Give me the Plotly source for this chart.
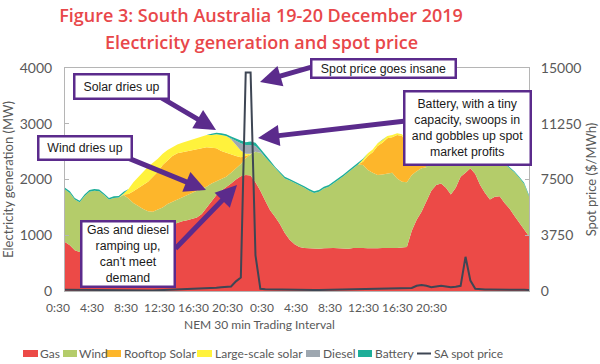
import plotly.graph_objects as go

# ---------------- data (MW per 30-min interval, two days) ----------------
gas = [880, 820, 730, 700, 690, 690, 700, 715, 730, 750, 770, 800, 830, 870, 900, 940,
       980, 1020, 1060, 1100, 1130, 1160, 1190, 1230, 1250, 1270, 1290, 1320, 1380, 1500,
       1620, 1720, 1800, 1860, 1930, 2000, 2060, 2080, 2070, 1950, 1800, 1620, 1450, 1330,
       1200, 1040, 920, 840, 790,
       770, 765, 760, 760, 765, 770, 770, 765, 760, 760, 770, 775, 770, 765, 760, 765,
       770, 775, 770, 770, 780, 790,
       1080, 1280, 1420, 1620, 1800, 1900, 1930, 1850, 1730, 1850, 2050, 2120, 2200, 2100,
       1900, 1760, 1640, 1690, 1700, 1580, 1480, 1350, 1230, 1110, 980]

wind = [940, 940, 910, 890, 1010, 1090, 1100, 1075, 990, 890, 900, 875, 890, 790, 680, 580,
        490, 410, 360, 360, 370, 400, 410, 410, 440, 460, 480, 490, 460, 370,
        310, 250, 210, 190, 190, 200, 220, 300, 380, 550, 680, 780, 850, 870,
        900, 980, 1060, 1100, 1110,
        1080, 1035, 1000, 1020, 1075, 1100, 1160, 1235, 1300, 1370, 1430, 1495, 1490, 1405,
        1360, 1315, 1320, 1335, 1350, 1250, 1180, 1160,
        1000, 870, 780, 600, 550, 500, 520, 630, 770, 670, 490, 430, 350, 430,
        600, 700, 780, 690, 640, 700, 720, 780, 800, 810, 720]

rooftop = [0] * 12 + [10, 80, 210, 330, 440, 530, 630, 680, 760, 780, 820, 830, 800, 780,
                      750, 730, 730, 710, 640, 590, 500, 430, 320, 220, 120, 40, 0] \
          + [0] * 22 + [60, 250, 370, 520, 570, 630, 640, 780, 820, 700, 450, 250, 100, 10] \
          + [0] * 21

large_solar = [0] * 12 + [20, 90, 160, 190, 230, 270, 250, 230, 200, 190, 160, 160, 170, 180,
                          200, 210, 210, 220, 230, 250, 290, 300, 280, 200, 120, 40, 10] \
              + [0] * 22 + [40, 50, 50, 50, 50, 40, 40, 30, 30, 20, 10, 0, 0, 0] \
              + [0] * 21

diesel = [0] * 34 + [20, 70, 130, 160, 160, 100, 30] + [0] * 55

battery = [30] * 13 + [0] * 17 + [20, 30, 30, 30, 30, 40, 50, 50, 60, 60, 50, 40, 40] \
          + [30] * 18 + [10] + [0] * 11 + [20] * 23

spot_price = [90, 85, 80, 75, 70, 70, 75, 80, 85, 90, 85, 80, 70, 60, 50, 40, 35, 35, 40, 50,
              60, 70, 80, 90, 100, 110, 120, 130, 150, 170, 190, 220, 250,
              280, 300, 650, 900, 14700, 14700, 2400, 150,
              120, 110, 100, 100, 95, 90, 90, 85, 80, 80, 75, 75, 80, 80, 85, 90, 90, 95, 100,
              100, 110, 110, 120, 120, 130, 130, 140, 150, 160, 180,
              200, 350, 400, 350, 250, 300, 350, 300, 250, 280, 350, 2300, 700, 150,
              110, 100, 100, 90, 80, 90, 100, 90, 80, 80, 70]

x_tick_labels = ["0:30", "4:30", "8:30", "12:30", "16:30", "20:30",
                 "0:30", "4:30", "8:30", "12:30", "16:30", "20:30"]
y_ticks = [0, 1000, 2000, 3000, 4000]
y2_ticks = [0, 3750, 7500, 11250, 15000]

series_names = ["Gas", "Wind", "Rooftop Solar", "Large-scale solar", "Diesel", "Battery"]
series_values = [gas, wind, rooftop, large_solar, diesel, battery]
price_name = "SA spot price"

# ---------------- styles ----------------
colors = ["#EC4A47", "#B4CC6A", "#FDB62B", "#FFF23C", "#9EA7B0", "#1EAE98"]
PRICE_COLOR = "#3E4654"
PURPLE = "#5B2B8C"
GREY = "#595959"
TITLE_RED = "#E8474A"
AXIS_FONT = "Lato"
BOX_FONT = "Liberation Sans, Arial"

W, H = 600, 364
PL, PR, PT, PB = 65, 529, 68, 291   # plot area in pixels
N = len(gas)


def dx(px):   # pixel -> data x
    return (px - PL) / (PR - PL) * (N - 1)


def dy(py):   # pixel -> data y (MW)
    return (PB - py) / (PB - PT) * 4000


def ppx(px):
    return (px - PL) / (PR - PL)


def ppy(py):
    return (PB - py) / (PB - PT)


x = list(range(N))
fig = go.Figure()
for name, vals, col in zip(series_names, series_values, colors):
    fig.add_trace(go.Scatter(x=x, y=vals, name=name, stackgroup="gen", mode="lines",
                             line=dict(width=0, color=col), fillcolor=col,
                             showlegend=False))
fig.add_trace(go.Scatter(x=x, y=spot_price, name=price_name, yaxis="y2", mode="lines",
                         line=dict(color=PRICE_COLOR, width=2), showlegend=False))

annotations = []
shapes = []

# second title line
annotations.append(dict(x=ppx(261), y=ppy(42), xref="paper", yref="paper",
                        text="Electricity generation and spot price", showarrow=False,
                        xanchor="center", yanchor="middle",
                        font=dict(family="Open Sans", size=18, color=TITLE_RED,
                                  weight=600)))

# x tick labels (placed as in the original picture)
for k, lab in enumerate(x_tick_labels):
    cx = 57.5 + 34.0 * k
    annotations.append(dict(x=ppx(cx), y=ppy(307), xref="paper", yref="paper", text=lab,
                            showarrow=False, xanchor="center", yanchor="middle",
                            font=dict(family=AXIS_FONT, size=12, color=GREY)))
# x title
annotations.append(dict(x=ppx(259), y=ppy(324), xref="paper", yref="paper",
                        text="NEM 30 min Trading Interval", showarrow=False,
                        xanchor="center", yanchor="middle",
                        font=dict(family=AXIS_FONT, size=12, color=GREY)))

# arrows (tail pixel, tip pixel)
arrows = [((312, 67), (260, 82)),
          ((160, 97), (216, 130)),
          ((128, 158), (206, 190)),
          ((174, 250), (237, 185)),
          ((405, 121), (258, 138))]
for (tx, ty), (hx, hy) in arrows:
    annotations.append(dict(x=dx(hx), y=dy(hy), xref="x", yref="y",
                            ax=dx(tx), ay=dy(ty), axref="x", ayref="y", text="",
                            showarrow=True, arrowhead=2, arrowsize=0.85, arrowwidth=5,
                            arrowcolor=PURPLE))

# callout boxes (centre x, centre y, width, height)
boxes = [("Spot price goes insane", 383.5, 68, 147, 21),
         ("Solar dries up", 121.5, 86.5, 97, 27),
         ("Wind dries up", 85, 148, 96, 26),
         ("Gas and diesel<br>ramping up,<br>can't meet<br>demand", 128, 253.5, 96, 68),
         ("Battery, with a tiny<br>capacity, swoops in<br>and gobbles up spot<br>market profits",
          467.5, 128, 129, 76)]
for txt, cx, cy, w, h in boxes:
    annotations.append(dict(x=dx(cx), y=dy(cy), xref="x", yref="y", text=txt,
                            showarrow=False, xanchor="center", yanchor="middle",
                            bgcolor="white", bordercolor=PURPLE, borderwidth=2.5,
                            borderpad=0, width=w - 5, height=h - 5, align="center",
                            valign="middle",
                            font=dict(family=BOX_FONT, size=12.3, color="#1a1a1a")))

# manual legend (one row)
leg = [(23, 38, 38), (63, 77, 77), (106, 121, 122), (197, 212, 213),
       (306, 320, 321), (358, 372, 373), (417, 431, 432)]
leg_names = series_names + [price_name]
leg_cols = colors + [PRICE_COLOR]
for i, ((x0, x1, tx), nm, col) in enumerate(zip(leg, leg_names, leg_cols)):
    if i < 6:
        shapes.append(dict(type="rect", xref="paper", yref="paper",
                           x0=ppx(x0), x1=ppx(x1), y0=ppy(357), y1=ppy(350),
                           fillcolor=col, line=dict(width=0)))
    else:
        shapes.append(dict(type="line", xref="paper", yref="paper",
                           x0=ppx(x0), x1=ppx(x1), y0=ppy(353.5), y1=ppy(353.5),
                           line=dict(color=col, width=2)))
    annotations.append(dict(x=ppx(tx), y=ppy(353), xref="paper", yref="paper", text=nm,
                            showarrow=False, xanchor="left", yanchor="middle",
                            font=dict(family=AXIS_FONT, size=12, color=GREY)))

fig.update_layout(
    width=W, height=H,
    margin=dict(l=PL, r=W - PR, t=PT, b=H - PB, autoexpand=False),
    paper_bgcolor="white", plot_bgcolor="white",
    title=dict(text="Figure 3: South Australia 19-20 December 2019",
               x=261 / W, xanchor="center", xref="container",
               y=1 - 16 / H, yanchor="middle", yref="container",
               font=dict(family="Open Sans", size=18, color=TITLE_RED, weight=600)),
    xaxis=dict(range=[0, N - 1], showticklabels=False, showgrid=False, zeroline=False,
               showline=True, mirror=True, linecolor="#b5b5b5", linewidth=1, ticks=""),
    yaxis=dict(range=[0, 4000], tickvals=y_ticks, ticktext=[str(v) for v in y_ticks],
               showgrid=False, zeroline=False,
               showline=True, linecolor="#b5b5b5", linewidth=1,
               ticks="inside", ticklen=4, tickcolor="#b5b5b5", ticklabelstandoff=9,
               tickfont=dict(family=AXIS_FONT, size=14, color=GREY),
               title=dict(text="Electricity generation (MW)", standoff=3,
                          font=dict(family=AXIS_FONT, size=13, color=GREY))),
    yaxis2=dict(range=[0, 15000], tickvals=y2_ticks, ticktext=[str(v) for v in y2_ticks],
                overlaying="y", side="right",
                showgrid=False, zeroline=False, showline=True, linecolor="#b5b5b5",
                ticks="inside", ticklen=4, tickcolor="#b5b5b5", ticklabelstandoff=8,
                tickfont=dict(family=AXIS_FONT, size=14, color=GREY),
                title=dict(text="Spot price ($/MWh)", standoff=6,
                           font=dict(family=AXIS_FONT, size=13, color=GREY))),
    annotations=annotations, shapes=shapes, showlegend=False,
)

fig.write_html("out.html", config={"displayModeBar": False},
               post_script="document.body.style.margin='0';document.body.style.padding='0';")
